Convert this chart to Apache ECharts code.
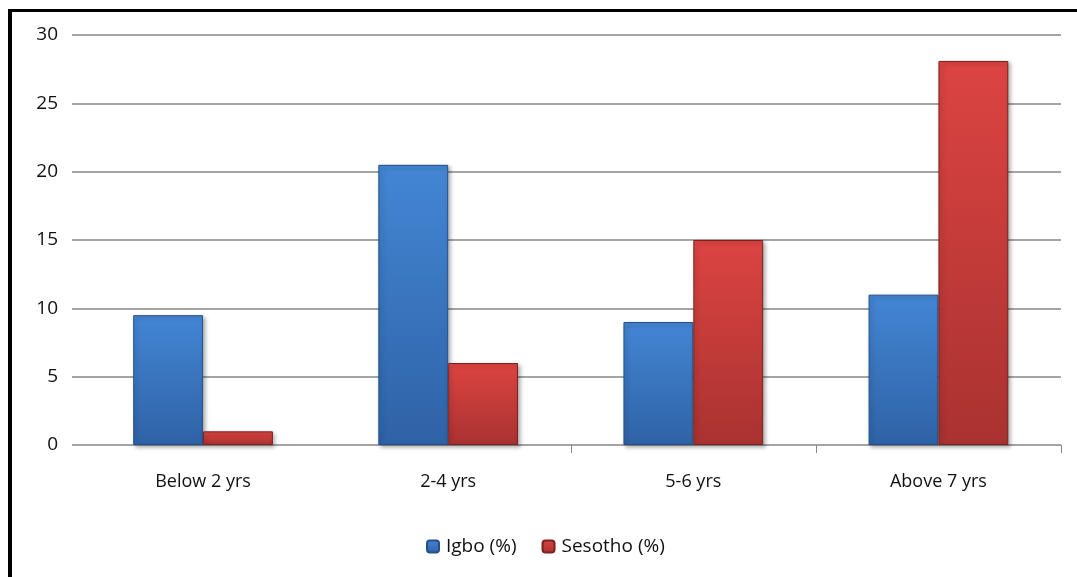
<!DOCTYPE html>
<html>
<head>
<meta charset="utf-8">
<script src="https://cdn.jsdelivr.net/npm/echarts@6/dist/echarts.min.js"></script>
<style>
html,body{margin:0;padding:0;background:#fff;}
#c{width:1077px;height:577px;}
</style>
</head>
<body>
<div id="c"></div>
<script>
const categories = ['Below 2 yrs', '2-4 yrs', '5-6 yrs', 'Above 7 yrs'];
const igbo = [9.5, 20.5, 9, 11];
const sesotho = [1, 6, 15, 28.1];
const seriesNames = ['Igbo (%)', 'Sesotho (%)'];
const yTicks = { min: 0, max: 30, interval: 5 };

const font = '"Open Sans", "Noto Sans", sans-serif';
function grad(top, bottom) {
  return new echarts.graphic.LinearGradient(0, 0, 0, 1, [
    { offset: 0, color: top }, { offset: 1, color: bottom }
  ]);
}
const chart = echarts.init(document.getElementById('c'), null, { renderer: 'canvas' });
chart.setOption({
  backgroundColor: '#ffffff',
  animation: false,
  grid: [
    { left: 72, right: 16, top: 35, bottom: 132, containLabel: false },
    { left: 80.5, right: 16, top: 35, bottom: 132, containLabel: false }
  ],
  legend: {
    left: 421, top: 532,
    itemWidth: 12, itemHeight: 12, itemGap: 25,
    textStyle: { fontFamily: font, fontSize: 19, color: '#111', padding: [0, 0, 0, 2] },
    data: seriesNames
  },
  xAxis: [
    { type: 'value', gridIndex: 0, show: false, min: 0, max: 1 },
    {
      type: 'category', gridIndex: 1,
      data: categories,
      axisLine: { show: false },
      axisTick: { show: true, length: 8, lineStyle: { color: '#868686' }, interval: function (i) { return i >= 2; } },
      axisLabel: { fontFamily: font, fontSize: 18, color: '#111', margin: 28 }
    }
  ],
  yAxis: [
    {
      type: 'value', gridIndex: 0,
      min: yTicks.min, max: yTicks.max, interval: yTicks.interval,
      axisLine: { show: false },
      axisTick: { show: false },
      splitLine: { lineStyle: { color: '#868686', width: 1.5 } },
      axisLabel: { fontFamily: font, fontSize: 19, color: '#111', margin: 14 }
    },
    {
      type: 'value', gridIndex: 1,
      min: yTicks.min, max: yTicks.max, interval: yTicks.interval,
      show: false, splitLine: { show: false }
    }
  ],
  series: [
    {
      name: seriesNames[0], type: 'bar', data: igbo,
      xAxisIndex: 1, yAxisIndex: 1,
      barGap: '0%', barCategoryGap: '43%',
      itemStyle: {
        color: grad('#4386d4', '#2f62a6'),
        borderColor: '#24508a', borderWidth: 1,
        shadowColor: 'rgba(0,0,0,0.3)', shadowBlur: 4, shadowOffsetX: 2, shadowOffsetY: 2
      }
    },
    {
      name: seriesNames[1], type: 'bar', data: sesotho,
      xAxisIndex: 1, yAxisIndex: 1,
      itemStyle: {
        color: grad('#dc4442', '#a93230'),
        borderColor: '#7a2220', borderWidth: 1,
        shadowColor: 'rgba(0,0,0,0.3)', shadowBlur: 4, shadowOffsetX: 2, shadowOffsetY: 2
      }
    }
  ],
  graphic: [
    { type: 'line', shape: { x1: 10, y1: 9, x2: 10, y2: 577 }, style: { stroke: '#000', lineWidth: 4 } },
    { type: 'line', shape: { x1: 8, y1: 10.5, x2: 1077, y2: 10.5 }, style: { stroke: '#000', lineWidth: 3 } }
  ]
});
</script>
</body>
</html>
